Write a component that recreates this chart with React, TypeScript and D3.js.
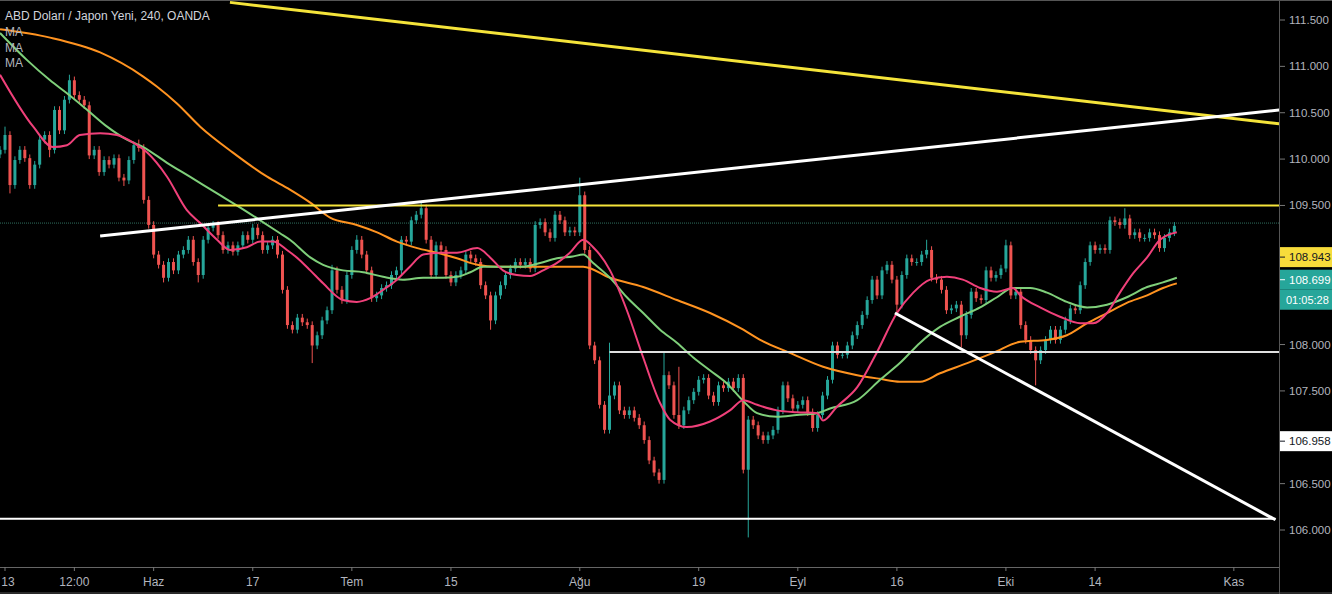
import React from "react";
import * as d3 from "d3";

const W = 1332;
const H = 594;

// ---------- DATA ----------
const title = "ABD Doları / Japon Yeni, 240, OANDA";
const maLabels = ["MA", "MA", "MA"];

const firstOpen = 110.05;
// half-day candles, index i -> trading day -0.5 + i*0.5 (day 0 = 13 May)
const closes = [
  110.10, 110.26, 109.72, 109.99, 110.10, 110.01, 109.72, 109.94, 110.21, 110.26,
  110.10, 110.53, 110.31, 110.64, 110.85, 110.69, 110.64, 110.58, 110.04, 110.10,
  109.86, 109.99, 109.94, 110.01, 109.80, 109.77, 109.99, 110.15, 110.12, 109.56,
  109.29, 108.97, 108.86, 108.72, 108.89, 108.80, 108.97, 109.02, 109.13, 108.89,
  108.75, 109.13, 109.26, 109.29, 109.18, 109.02, 109.07, 109.00, 109.07, 109.18,
  109.13, 109.26, 109.18, 109.02, 109.07, 109.13, 108.97, 108.59, 108.21, 108.16,
  108.29, 108.24, 108.21, 107.99, 108.10, 108.26, 108.37, 108.80, 108.59, 108.48,
  108.75, 109.02, 109.13, 108.97, 108.80, 108.50, 108.53, 108.61, 108.64, 108.75,
  108.80, 109.13, 109.11, 109.34, 109.40, 109.47, 109.13, 108.75, 109.07, 109.02,
  108.75, 108.67, 108.75, 108.80, 108.97, 108.93, 108.89, 108.64, 108.53, 108.26,
  108.53, 108.64, 108.75, 108.82, 108.89, 108.86, 108.89, 108.82, 109.29, 109.32,
  109.21, 109.15, 109.40, 109.34, 109.21, 109.23, 109.21, 109.61, 109.02, 107.99,
  107.83, 107.35, 107.08, 107.45, 107.56, 107.29, 107.24, 107.29, 107.21, 107.13,
  106.97, 106.75, 106.62, 106.54, 107.67, 107.56, 107.24, 107.13, 107.29, 107.40,
  107.49, 107.62, 107.64, 107.45, 107.38, 107.56, 107.53, 107.60, 107.53, 107.64,
  106.65, 107.19, 107.13, 107.02, 106.97, 107.02, 107.08, 107.29, 107.56, 107.42,
  107.31, 107.35, 107.40, 107.27, 107.10, 107.24, 107.45, 107.62, 107.99, 107.89,
  107.89, 107.99, 108.10, 108.21, 108.32, 108.48, 108.70, 108.53, 108.80, 108.86,
  108.70, 108.43, 108.75, 108.93, 108.89, 108.89, 108.97, 109.02, 108.72, 108.70,
  108.59, 108.37, 108.39, 108.43, 108.10, 108.32, 108.57, 108.50, 108.48, 108.80,
  108.72, 108.75, 108.82, 109.07, 108.53, 108.57, 108.21, 108.05, 107.94, 107.83,
  107.94, 108.05, 108.16, 108.05, 108.16, 108.26, 108.39, 108.37, 108.64, 108.89,
  109.07, 109.02, 109.04, 109.02, 109.34, 109.32, 109.29, 109.36, 109.18, 109.21,
  109.15, 109.15, 109.21, 109.18, 109.04, 109.15, 109.21, 109.28,
];
const wickExtra = 0.04;
const spikeHighs: [number, number][] = [
  [1, 110.35], [14, 110.91], [28, 110.21], [67, 108.86], [72, 109.18], [85, 109.53],
  [117, 109.80], [123, 108.02], [134, 107.91], [137, 107.76], [187, 109.13], [203, 109.13], [227, 109.47],
];
const spikeLows: [number, number][] = [
  [2, 109.63], [10, 110.02], [25, 109.71], [33, 108.67], [40, 108.67], [63, 107.80],
  [99, 108.16], [151, 105.92], [181, 108.34], [194, 107.97], [209, 107.56],
];

// moving averages: [candle index, price]
const maFast: [number, number][] = [
  [0, 110.91], [6.7, 110.35], [10.7, 110.13], [13.5, 110.15], [16.1, 110.26], [20.2, 110.28],
  [23.6, 110.26], [26.8, 110.18], [29.7, 110.07], [33.7, 109.81], [37.7, 109.45], [40.4, 109.31],
  [43.8, 109.13], [46.4, 109.02], [49.8, 109.05], [52.5, 109.11], [55.1, 109.11], [57.9, 109.02],
  [60.5, 108.91], [62.6, 108.80], [65.2, 108.66], [69.2, 108.48], [72, 108.46], [74.7, 108.50],
  [77.3, 108.59], [80.1, 108.70], [82.7, 108.84], [85.4, 108.97], [88.8, 108.99], [92.2, 108.99],
  [96.3, 109.04], [98.9, 108.94], [101.5, 108.80], [104.3, 108.75], [107, 108.74], [109.6, 108.80],
  [112.4, 108.88], [115, 108.99], [117.7, 109.13], [119.7, 109.05], [123.1, 108.80], [126.5, 108.37],
  [129.8, 107.86], [133.2, 107.37], [135.2, 107.19], [138.6, 107.11], [143.3, 107.17], [147.3, 107.29],
  [150, 107.40], [152.8, 107.35], [156.8, 107.29], [160.8, 107.27], [164.9, 107.26], [166.1, 107.18],
  [168.9, 107.33], [173, 107.54], [177, 107.92], [181, 108.34], [184.3, 108.56], [187.7, 108.70],
  [191.1, 108.73], [194.3, 108.70], [197.8, 108.61], [201.2, 108.57], [204.4, 108.61], [205.9, 108.53],
  [209.9, 108.40], [213.9, 108.30], [218, 108.23], [220.6, 108.23], [223.4, 108.34], [226, 108.56],
  [228.7, 108.77], [231.5, 108.94], [234.1, 109.13], [237.5, 109.21],
];
const maMid: [number, number][] = [
  [0, 111.36], [5.4, 111.07], [10.1, 110.85], [13.5, 110.71], [17.6, 110.53], [21.6, 110.35],
  [25.6, 110.21], [28.9, 110.13], [33.7, 109.96], [38.3, 109.81], [43.8, 109.63], [48.4, 109.48],
  [52.5, 109.34], [56.5, 109.20], [58.5, 109.13], [62.6, 108.94], [65.2, 108.86], [69.2, 108.80],
  [73.3, 108.78], [77.3, 108.73], [81.3, 108.70], [85.4, 108.72], [89.4, 108.72], [92.2, 108.73],
  [94.9, 108.78], [97.5, 108.84], [101.5, 108.84], [105.6, 108.84], [109, 108.88], [112.4, 108.93],
  [115.6, 108.95], [117.7, 108.97], [119.7, 108.88], [123.1, 108.72], [126.5, 108.51], [129.8, 108.34],
  [133.2, 108.16], [136.6, 108.02], [139.9, 107.86], [143.3, 107.72], [146.7, 107.58], [150, 107.39],
  [152.8, 107.26], [156.8, 107.22], [160.8, 107.24], [164.9, 107.26], [167.5, 107.31], [173, 107.40],
  [177.6, 107.62], [181.6, 107.80], [185.7, 108.02], [189.7, 108.19], [193.7, 108.30], [197.8, 108.40],
  [201.2, 108.51], [204.4, 108.61], [207.9, 108.61], [211.3, 108.56], [215.3, 108.46], [219.4, 108.40],
  [223.4, 108.43], [227.4, 108.51], [231.5, 108.62], [234.7, 108.67], [237.5, 108.72],
];
const maSlow: [number, number][] = [
  [0, 111.40], [10.1, 111.31], [20.2, 111.15], [28.9, 110.89], [31.7, 110.78], [35.7, 110.60],
  [40.4, 110.35], [47, 110.07], [53.9, 109.81], [58.5, 109.67], [62.6, 109.53], [66.6, 109.37],
  [72, 109.29], [76.1, 109.21], [80.1, 109.11], [84.2, 109.04], [88.2, 108.99], [92.2, 108.93],
  [96.3, 108.86], [100.3, 108.84], [105.6, 108.84], [112.4, 108.84], [117.7, 108.84], [123.1, 108.72],
  [129.8, 108.62], [136.6, 108.48], [143.3, 108.34], [150, 108.16], [153.4, 108.05], [159.4, 107.91],
  [166.1, 107.76], [173, 107.67], [177.6, 107.63], [181.6, 107.60], [185.7, 107.60], [189.7, 107.69],
  [195.2, 107.80], [200.4, 107.91], [205.9, 108.03], [211.3, 108.05], [215.3, 108.10], [219.4, 108.23],
  [223.4, 108.34], [227.4, 108.45], [231.5, 108.53], [234.7, 108.61], [237.5, 108.66],
];

// drawings: [day, price] endpoints
const yellowTrend: [number, number][] = [[22.7, 111.69], [128.6, 110.38]];
const whiteTrend: [number, number][] = [[9.6, 109.17], [128.6, 110.53]];
const yellowLevel: [number, number][] = [[21.5, 109.5], [128.6, 109.5]];
const whiteLevelLow: [number, number][] = [[-1, 106.12], [128.2, 106.12]];
const whiteLevelMid: [number, number][] = [[61, 107.92], [128.6, 107.92]];
const whiteDown: [number, number][] = [[89.8, 108.34], [128.2, 106.11]];
const lastPrice = 109.31;

// visible price labels (the others are hidden behind the price tags)
const priceTicks = [111.5, 111.0, 110.5, 110.0, 109.5, 108.0, 107.5, 106.5, 106.0];
const timeTickDays = [0, 7, 15, 25, 35, 45, 58, 70, 80, 90, 101, 110, 124];
const timeTickLabels = ["13", "12:00", "Haz", "17", "Tem", "15", "Ağu", "19", "Eyl", "16", "Eki", "14", "Kas"];

const priceTags = [
  { value: 108.943, text: "108.943", bg: "#f7dc3b", fg: "#131722" },
  { value: 108.699, text: "108.699", bg: "#26a69a", fg: "#ffffff" },
  { value: 106.958, text: "106.958", bg: "#ffffff", fg: "#131722" },
];
const countdown = "01:05:28";

// ---------- CHART ----------
export default function App() {
  const plotRight = 1279;
  const plotBottom = 567;
  const x = d3.scaleLinear().domain([0, 124]).range([5, 5 + 124 * 9.91]);
  const y = d3.scaleLinear().domain([106, 111.5]).range([530, 20]);
  const dayOf = (i: number) => -0.5 + i * 0.5;

  const hiMap = new Map(spikeHighs);
  const loMap = new Map(spikeLows);
  const candles = closes.map((c, i) => {
    const o = i === 0 ? firstOpen : closes[i - 1];
    const h = hiMap.has(i) ? Math.max(hiMap.get(i)!, Math.max(o, c)) : Math.max(o, c) + wickExtra;
    const l = loMap.has(i) ? Math.min(loMap.get(i)!, Math.min(o, c)) : Math.min(o, c) - wickExtra;
    return { i, o, c, h, l };
  });

  const maLine = d3
    .line<[number, number]>()
    .x((d) => x(dayOf(d[0])))
    .y((d) => y(d[1]))
    .curve(d3.curveMonotoneX);
  const seg = d3
    .line<[number, number]>()
    .x((d) => x(d[0]))
    .y((d) => y(d[1]));

  const up = "#26a69a";
  const down = "#ef5350";
  const axisText = "#b2b5be";
  const bodyW = 3;
  const labelX = plotRight + 10;
  const labelSize = 11.5;

  return (
    <svg
      width={W}
      height={H}
      style={{ position: "absolute", left: 0, top: 0, background: "#000" }}
      fontFamily="'Liberation Sans', Arial, sans-serif"
    >
      <rect x={0} y={0} width={W} height={H} fill="#000" />
      <defs>
        <clipPath id="plot">
          <rect x={0} y={0} width={plotRight} height={plotBottom} />
        </clipPath>
      </defs>

      <g clipPath="url(#plot)">
        {/* last price line */}
        <line x1={0} x2={plotRight} y1={y(lastPrice)} y2={y(lastPrice)} stroke="#2f6f5f" strokeWidth={1} strokeDasharray="1 1" />

        {/* candles */}
        {candles.map((k) => {
          const cx = x(dayOf(k.i));
          const col = k.c >= k.o ? up : down;
          const top = y(Math.max(k.o, k.c));
          const bh = Math.max(1, y(Math.min(k.o, k.c)) - top);
          return (
            <g key={k.i}>
              <line x1={cx} x2={cx} y1={y(k.h)} y2={y(k.l)} stroke={col} strokeWidth={1} />
              <rect x={cx - bodyW / 2} y={top} width={bodyW} height={bh} fill={col} />
            </g>
          );
        })}

        {/* moving averages */}
        <path d={maLine(maSlow) || ""} fill="none" stroke="#ff9320" strokeWidth={2} />
        <path d={maLine(maMid) || ""} fill="none" stroke="#7fcf7a" strokeWidth={2} />
        <path d={maLine(maFast) || ""} fill="none" stroke="#f0407a" strokeWidth={2} />

        {/* drawings */}
        <path d={seg(yellowTrend) || ""} stroke="#f5e43a" strokeWidth={3} fill="none" />
        <path d={seg(yellowLevel) || ""} stroke="#f5e43a" strokeWidth={2} fill="none" />
        <path d={seg(whiteTrend) || ""} stroke="#ffffff" strokeWidth={3} fill="none" />
        <path d={seg(whiteLevelLow) || ""} stroke="#ffffff" strokeWidth={2} fill="none" />
        <path d={seg(whiteLevelMid) || ""} stroke="#e0e0e0" strokeWidth={2} fill="none" />
        <path d={seg(whiteDown) || ""} stroke="#ffffff" strokeWidth={3} fill="none" />
      </g>

      {/* top border */}
      <line x1={0} x2={W} y1={0.5} y2={0.5} stroke="#555" strokeWidth={1} />

      {/* legend */}
      <text x={5} y={20} fontSize={12} fill="#d1d4dc">{title}</text>
      {maLabels.map((m, i) => (
        <text key={i} x={5} y={36 + i * 15.5} fontSize={12} fill="#b2b5be">{m}</text>
      ))}

      {/* right price axis */}
      <line x1={plotRight + 0.5} x2={plotRight + 0.5} y1={0} y2={H} stroke="#555" strokeWidth={1} />
      {priceTicks.map((v) => (
        <g key={v}>
          <line x1={plotRight + 1} x2={plotRight + 6} y1={y(v)} y2={y(v)} stroke="#777" />
          <text x={labelX} y={y(v) + 4} fontSize={labelSize} fill={axisText}>
            {d3.format(".3f")(v)}
          </text>
        </g>
      ))}
      {priceTags.map((t) => (
        <g key={t.text}>
          <rect x={plotRight + 1} y={y(t.value) - 10} width={W - plotRight} height={20} fill={t.bg} />
          <line x1={plotRight + 1} x2={plotRight + 6} y1={y(t.value)} y2={y(t.value)} stroke={t.fg} />
          <text x={labelX} y={y(t.value) + 4} fontSize={labelSize} fill={t.fg}>{t.text}</text>
        </g>
      ))}
      <rect x={plotRight + 1} y={y(108.699) + 10} width={W - plotRight} height={20} fill="#26a69a" />
      <text x={plotRight + 7} y={y(108.699) + 24} fontSize={11} fill="#ffffff">{countdown}</text>

      {/* bottom time axis */}
      <line x1={0} x2={plotRight} y1={plotBottom + 0.5} y2={plotBottom + 0.5} stroke="#666" strokeWidth={1} />
      <line x1={0} x2={W} y1={H - 1} y2={H - 1} stroke="#555" strokeWidth={1} />
      {timeTickDays.map((d, i) => (
        <g key={i}>
          <line x1={x(d)} x2={x(d)} y1={plotBottom} y2={plotBottom + 4} stroke="#777" />
          <text x={Math.max(x(d), 8)} y={586} fontSize={12} fill={axisText} textAnchor="middle">
            {timeTickLabels[i]}
          </text>
        </g>
      ))}
    </svg>
  );
}
